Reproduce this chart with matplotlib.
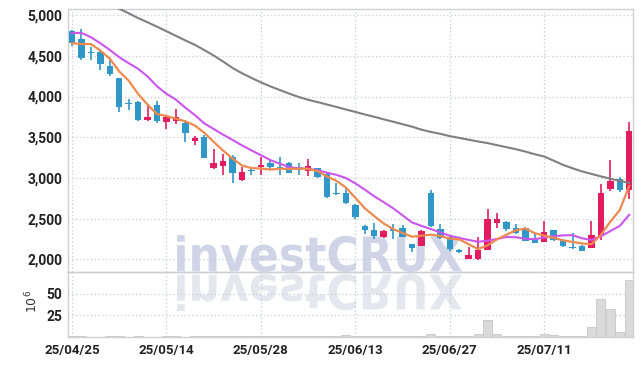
import numpy as np
import matplotlib
matplotlib.use("Agg")
import matplotlib.pyplot as plt
from matplotlib.textpath import TextPath
from matplotlib.patches import PathPatch
from matplotlib.font_manager import FontProperties
from matplotlib.transforms import Affine2D
from matplotlib.ticker import FuncFormatter

# daily OHLC (KRW)
opens = [4805, 4710, 4550, 4550, 4370, 4225, 3920, 3930, 3715, 3890,
         3690, 3700, 3675, 3460, 3500, 3120, 3150, 3260, 2970, 3095,
         3130, 3180, 3140, 3180, 3130, 3090, 3120, 3050, 2820, 2820,
         2670, 2405, 2365, 2270, 2370, 2390, 2185, 2165, 2810, 2370,
         2280, 2115, 2010, 2005, 2115, 2445, 2460, 2380, 2380, 2255,
         2215, 2355, 2235, 2150, 2165, 2145, 2290, 2865, 2990, 2850]
highs = [4820, 4830, 4610, 4560, 4450, 4225, 3970, 3940, 3910, 3940,
         3760, 3850, 3710, 3520, 3530, 3350, 3300, 3280, 3140, 3140,
         3255, 3235, 3255, 3190, 3180, 3235, 3125, 3060, 2935, 2895,
         2680, 2425, 2445, 2360, 2430, 2420, 2190, 2360, 2850, 2430,
         2290, 2130, 2155, 2280, 2620, 2565, 2475, 2430, 2400, 2310,
         2470, 2360, 2250, 2320, 2175, 2470, 2930, 3215, 3010, 3690]
lows = [4615, 4450, 4450, 4320, 4255, 3815, 3830, 3700, 3700, 3680,
        3600, 3665, 3445, 3400, 3248, 3105, 3035, 2935, 2965, 3040,
        3040, 3100, 3040, 3060, 3040, 3025, 3000, 2750, 2790, 2685,
        2500, 2315, 2245, 2265, 2255, 2270, 2085, 2160, 2400, 2255,
        2105, 2080, 2005, 1995, 2110, 2380, 2350, 2315, 2220, 2200,
        2210, 2225, 2150, 2130, 2100, 2140, 2235, 2835, 2830, 2745]
closes = [4655, 4470, 4530, 4400, 4275, 3870, 3905, 3710, 3745, 3695,
          3745, 3745, 3550, 3490, 3250, 3185, 3205, 3060, 3070, 3085,
          3160, 3140, 3105, 3065, 3100, 3145, 3010, 2770, 2800, 2690,
          2515, 2365, 2290, 2345, 2350, 2275, 2135, 2350, 2410, 2260,
          2125, 2085, 2050, 2115, 2490, 2490, 2370, 2320, 2225, 2205,
          2340, 2235, 2160, 2135, 2105, 2295, 2815, 2965, 2850, 3580]

# moving average lines as drawn
ma5 = [4655, 4645, 4645, 4565, 4466, 4309, 4196, 4032, 3901, 3785,
       3760, 3728, 3696, 3645, 3556, 3444, 3336, 3238, 3154, 3121,
       3116, 3103, 3112, 3111, 3114, 3111, 3085, 3018, 2965, 2883,
       2757, 2628, 2532, 2441, 2373, 2325, 2279, 2291, 2304, 2286,
       2256, 2246, 2186, 2127, 2173, 2246, 2303, 2357, 2379, 2322,
       2292, 2265, 2233, 2215, 2195, 2186, 2302, 2463, 2606, 2901]
ma10 = [4780, 4782, 4729, 4655, 4573, 4483, 4410, 4341, 4247, 4126,
        4034, 3962, 3864, 3773, 3671, 3602, 3532, 3467, 3400, 3339,
        3280, 3220, 3175, 3133, 3118, 3114, 3094, 3065, 3038, 2999,
        2934, 2857, 2775, 2703, 2628, 2541, 2454, 2412, 2373, 2330,
        2291, 2263, 2239, 2216, 2230, 2251, 2275, 2272, 2253, 2248,
        2269, 2284, 2295, 2297, 2259, 2239, 2284, 2348, 2411, 2548]
ma_long = [5350, 5295, 5240, 5185, 5130, 5078, 5023, 4964, 4912, 4858,
           4802, 4746, 4689, 4636, 4571, 4504, 4430, 4351, 4286, 4229,
           4174, 4125, 4080, 4036, 3995, 3960, 3932, 3902, 3872, 3841,
           3811, 3780, 3751, 3720, 3691, 3660, 3630, 3593, 3565, 3542,
           3514, 3492, 3470, 3448, 3428, 3403, 3378, 3353, 3324, 3291,
           3263, 3212, 3160, 3119, 3080, 3050, 3019, 2991, 2964, 2940]

# volume in millions of shares
volume = [1.0, 1.2, 0.5, 0.5, 0.6, 1.5, 0.5, 0.6, 0.5, 0.5,
          0.6, 0.6, 0.5, 0.7, 1.0, 1.2, 1.0, 0.8, 0.6, 0.8,
          1.2, 1.0, 1.2, 0.8, 0.6, 0.8, 1.2, 1.5, 1.5, 1.8,
          1.5, 0.8, 0.7, 1.3, 0.6, 1.0, 0.8, 1.5, 4.0, 1.0,
          0.8, 0.6, 1.3, 3.8, 20.0, 3.3, 1.5, 0.8, 0.8, 1.2,
          3.8, 1.8, 1.5, 0.6, 0.8, 12.0, 44.0, 32.5, 6.2, 66.0]

tick_pos = [0, 10, 20, 30, 40, 50]
tick_labels = ['25/04/25', '25/05/14', '25/05/28', '25/06/13', '25/06/27', '25/07/11']

RED = '#e31b5f'
BLUE = '#3097c9'
GRID = '#c6cadb'
SPINE = '#cfd0d6'
TXT = '#222222'

W, H = 642, 366
fig = plt.figure(figsize=(W / 100, H / 100), dpi=100)
fig.patch.set_facecolor('white')
ax = fig.add_axes([68 / W, 1 - 272 / H, 565 / W, 263 / H])
axv = fig.add_axes([68 / W, 1 - 337 / H, 565 / W, 65 / H], sharex=ax)
for a in (ax, axv):
    a.set_facecolor('none')
    for s in a.spines.values():
        s.set_color(SPINE)
        s.set_linewidth(1.0)
    a.grid(True, linestyle=(0, (1, 2)), color=GRID, linewidth=0.9)
    a.set_axisbelow(True)
    a.tick_params(length=0, colors=TXT)

# watermark + reflection, in pixel coordinates, behind the axes
fp = FontProperties(family='DejaVu Sans', weight='bold')
tp = TextPath((0, 0), 'investCRUX', size=50, prop=fp)
ext = tp.get_extents()
sx = (462 - 177) / ext.width
sy = (272 - 235) / ext.height
base = Affine2D().translate(-ext.x0, -ext.y0)
main_tf = base + Affine2D().scale(sx, sy).translate(177, H - 272)
refl_tf = base + Affine2D().scale(sx, -sy).translate(177, H - 274)
fig.add_artist(PathPatch(tp, transform=main_tf, facecolor='#cfd5e7',
                         edgecolor='none', zorder=-1))
fig.add_artist(PathPatch(tp, transform=refl_tf, facecolor='#e5e7ee',
                         edgecolor='none', zorder=-1))

x = np.arange(len(closes))
o = np.array(opens)
c = np.array(closes)
cols = np.where(c >= o, RED, BLUE)
ax.vlines(x, lows, highs, colors=cols, linewidth=1.2, zorder=3)
ax.bar(x, np.maximum(np.abs(c - o), 15), bottom=np.minimum(o, c),
       width=0.68, color=cols, zorder=4)

ax.plot(x, ma_long, color='#808080', linewidth=1.5, zorder=5)
ax.plot(x, ma10, color='#cc55ee', linewidth=1.5, zorder=5)
ax.plot(x, ma5, color='#ef8a4e', linewidth=1.6, zorder=6)

ax.set_xlim(-0.42, 59.4)
ax.set_ylim(1845, 5075)
ax.set_yticks([2000, 2500, 3000, 3500, 4000, 4500, 5000])
ax.yaxis.set_major_formatter(FuncFormatter(lambda v, p: f'{int(v):,}'))
ax.tick_params(axis='y', pad=4)
ax.tick_params(axis='x', labelbottom=False)
for t in ax.get_yticklabels():
    t.set_fontsize(10)
    t.set_fontfamily('Roboto')
    t.set_fontweight('bold')

axv.bar(x, volume, width=0.95, color='#dadada', edgecolor='#c8c8c8',
        linewidth=0.6, zorder=2)
axv.set_ylim(0, 75)
axv.set_yticks([25, 50])
axv.set_xticks(tick_pos)
axv.set_xticklabels(tick_labels)
axv.tick_params(axis='x', pad=5)
axv.tick_params(axis='y', pad=4)
for t in axv.get_yticklabels():
    t.set_fontsize(10)
    t.set_fontfamily('Roboto')
    t.set_fontweight('bold')
for t in axv.get_xticklabels():
    t.set_fontsize(9.5)
    t.set_fontfamily('Roboto')
    t.set_fontweight('bold')
axv.text(-0.064, 0.54, r'$10^6$', transform=axv.transAxes, rotation=90,
         ha='center', va='center', fontsize=9, color='#333333')

fig.savefig('out.png', dpi=100)
